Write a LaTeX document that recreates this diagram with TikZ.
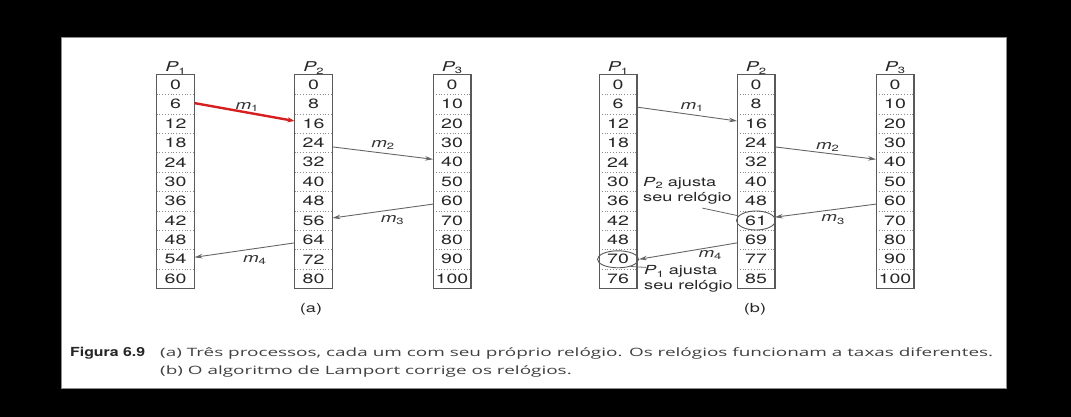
\documentclass[tikz,border=0pt]{standalone}
\usepackage{fontspec}
\setmainfont{TeX Gyre Heros}
\newfontfamily\dfont[FakeStretch=1.45]{TeX Gyre Heros}
\newfontfamily\capfont{Open Sans}
\newfontfamily\figfont{TeX Gyre Heros}
\usetikzlibrary{arrows.meta,shapes.geometric,calc}
\definecolor{redarrow}{RGB}{214,32,32}
\newlength\capw
\newlength\figw
\newcommand\Sb[1]{\raisebox{-0.4ex}{\upshape\fontsize{9}{9}\selectfont #1}}
\newcommand\capone{(a) Três processos, cada um com seu próprio relógio. Os relógios funcionam a taxas diferentes.}
\newcommand\drawcol[3]{%
  \foreach \v [count=\i from 0] in {#3} {\node[cell] (#1-\i) at (#2,{75+(\i+0.5)*19.4}) {\v};}
  \foreach \i in {0,...,9} {\draw[sep] (#1-\i.south west) -- (#1-\i.south east);}
  \draw[colbox] (#1-0.north west) rectangle (#1-10.south east);
}
\begin{document}
\settowidth\capw{\capfont\fontsize{11.5}{14}\selectfont \capone}%
\pgfmathsetmacro\capsx{833/\capw}%
\settowidth\figw{\figfont\bfseries\fontsize{12.5}{14}\selectfont Figura 6.9}%
\pgfmathsetmacro\figsx{75/\figw}%
\begin{tikzpicture}[x=1pt,y=-1pt,
  cell/.style={minimum width=37.5pt,minimum height=19.4pt,inner sep=0pt,
    font=\dfont\fontsize{13.5}{14}\selectfont,text=black!85},
  colbox/.style={draw=black!65,line width=1.1pt},
  sep/.style={draw=black!45,dotted,line width=0.8pt},
  msg/.style={draw=black!60,line width=0.9pt,-{Stealth[length=8pt,width=4.5pt]}},
  redmsg/.style={draw=redarrow,line width=2.4pt,-{Stealth[length=7pt,width=5pt]}},
  plab/.style={font=\dfont\itshape\fontsize{13.5}{14}\selectfont,text=black!85,inner sep=0.5pt,anchor=south},
  mlab/.style={font=\dfont\itshape\fontsize{13}{13}\selectfont,text=black!80,inner sep=0pt},
  circ/.style={draw=black!65,line width=0.9pt,ellipse,inner sep=0pt},
  note/.style={font=\dfont\fontsize{12.5}{15}\selectfont,text=black!85,align=left,inner sep=0pt},
  noteline/.style={draw=black!60,line width=0.8pt},
  sublab/.style={font=\dfont\fontsize{12.5}{13}\selectfont,text=black!85,inner sep=0pt}
]
\useasboundingbox (0,0) rectangle (1071,417);
\fill[black] (0,0) rectangle (1071,417);
\fill[white] (61,38) rectangle (1006,388);
\draw[black!45,line width=1pt] (61,38) rectangle (1006,388);

\drawcol{a1}{175.5}{0,6,12,18,24,30,36,42,48,54,60}
\drawcol{a2}{313.5}{0,8,16,24,32,40,48,56,64,72,80}
\drawcol{a3}{452}{0,10,20,30,40,50,60,70,80,90,100}
\drawcol{b1}{618}{0,6,12,18,24,30,36,42,48,70,76}
\drawcol{b2}{756}{0,8,16,24,32,40,48,61,69,77,85}
\drawcol{b3}{895}{0,10,20,30,40,50,60,70,80,90,100}

\node[plab] (pa1) at (a1-0.north) {P\Sb{1}};
\node[plab] (pa2) at (a2-0.north) {P\Sb{2}};
\node[plab] (pa3) at (a3-0.north) {P\Sb{3}};
\node[plab] (pb1) at (b1-0.north) {P\Sb{1}};
\node[plab] (pb2) at (b2-0.north) {P\Sb{2}};
\node[plab] (pb3) at (b3-0.north) {P\Sb{3}};

% (a) messages
\draw[redmsg] ([yshift=1pt]a1-1.east) -- ([yshift=2.5pt]a2-2.west)
  node[mlab,midway,xshift=2.5pt,yshift=5pt] {m\Sb{1}};
\draw[msg] ([yshift=-4pt]a2-3.east) -- ([yshift=3pt]a3-4.west)
  node[mlab,midway,yshift=8pt] {m\Sb{2}};
\draw[msg] ([yshift=-3pt]a3-6.west) -- ([yshift=2.5pt]a2-7.east)
  node[mlab,midway,xshift=9.5pt,yshift=-9pt] {m\Sb{3}};
\draw[msg] ([yshift=-3pt]a2-8.west) -- ([yshift=2pt]a1-9.east)
  node[mlab,midway,xshift=10pt,yshift=-10pt] {m\Sb{4}};

% (b)
\node[circ,minimum width=39pt,minimum height=19pt] (e61) at (b2-7) {};
\node[circ,minimum width=41pt,minimum height=17pt] (e70) at (b1-9) {};
\draw[msg] ([yshift=-3pt]b1-1.east) -- ([yshift=2.5pt]b2-2.west)
  node[mlab,midway,xshift=5pt,yshift=7pt] {m\Sb{1}};
\draw[msg] ([yshift=-4pt]b2-3.east) -- ([yshift=3pt]b3-4.west)
  node[mlab,midway,xshift=2pt,yshift=6pt] {m\Sb{2}};
\draw[msg] ([yshift=-3pt]b3-6.west) -- (e61.10)
  node[mlab,midway,xshift=7.5pt,yshift=-9pt] {m\Sb{3}};
\draw[msg] ([yshift=-3pt]b2-8.west) -- (e70.east)
  node[mlab,midway,xshift=22pt,yshift=-4pt] {m\Sb{4}};

\node[note,anchor=west] (t2) at (643,190.5) {\textit{P}\Sb{2} ajusta\\seu relógio};
\node[note,anchor=west] (t1) at (644,279) {\textit{P}\Sb{1} ajusta\\seu relógio};
\draw[noteline] ([shift={(15pt,-4pt)}]t2.south) -- (e61.165);
\draw[noteline] (e70.-30) -- ([shift={(2pt,-2pt)}]t1.north west);

\node[sublab] (la) at (311,309) {(a)};
\node[sublab] (lb) at (755,309) {(b)};

% caption
\node[anchor=base west,inner sep=0pt,text=black!85] (fig) at (70,356)
  {\scalebox{\figsx}[1]{\figfont\bfseries\fontsize{12.5}{14}\selectfont Figura 6.9}};
\node[anchor=base west,inner sep=0pt,text=black!75] (cap1) at (160,356)
  {\scalebox{\capsx}[1]{\capfont\fontsize{11.5}{14}\selectfont \capone}};
\node[anchor=base west,inner sep=0pt,text=black!75] (cap2) at (160,374.5)
  {\scalebox{\capsx}[1]{\capfont\fontsize{11.5}{14}\selectfont (b) O algoritmo de Lamport corrige os relógios.}};
\end{tikzpicture}
\end{document}
